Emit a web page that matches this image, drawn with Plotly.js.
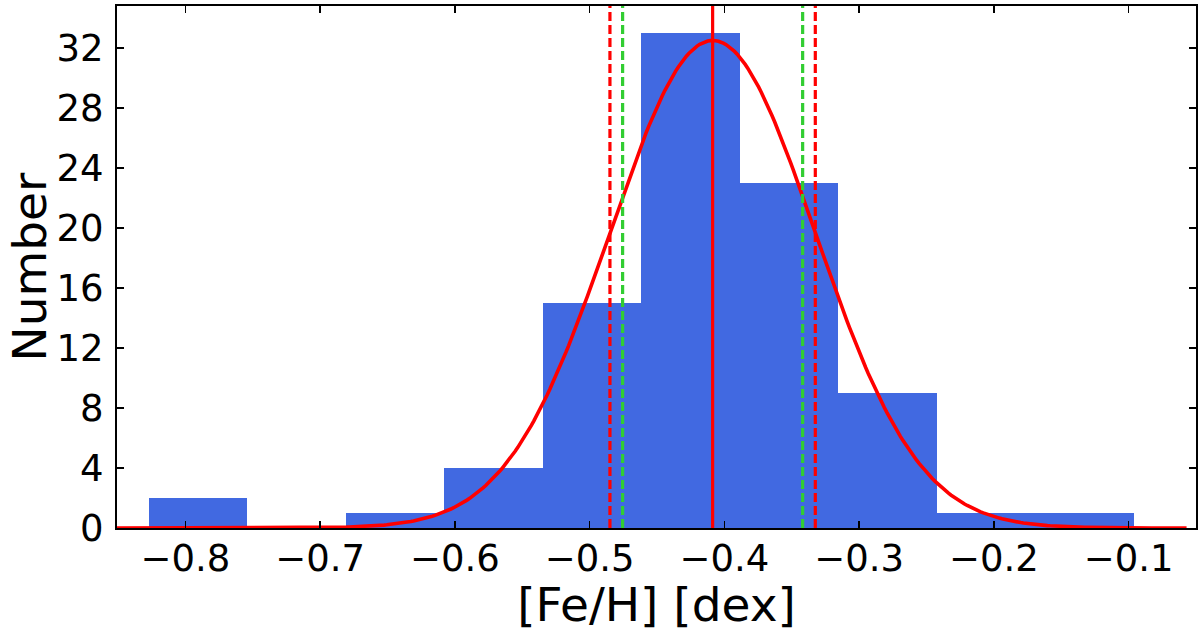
<!DOCTYPE html>
<html>
<head>
<meta charset="utf-8">
<script src="https://cdn.plot.ly/plotly-3.0.1.min.js"></script>
<style>html,body{margin:0;padding:0;background:#fff;}#chart{width:1200px;height:632px;}</style>
</head>
<body>
<div id="chart"></div>
<script>
// Histogram bin edges and counts
const binEdges = [-0.8272, -0.7541, -0.6810, -0.6078, -0.5347, -0.4616, -0.3885, -0.3153, -0.2422, -0.1691, -0.0960];
const counts   = [2, 0, 1, 4, 15, 33, 23, 9, 1, 1];

// Gaussian fit parameters
const fitMean  = -0.4087;
const fitSigma = 0.0762;
const fitPeak  = 32.5;
const fitRange = [-0.851, -0.057];

// Vertical reference lines
const solidLines     = [-0.4087];
const redDashLines   = [-0.4849, -0.3325];
const greenDashLines = [-0.4755, -0.3419];

const xTickVals = [-0.8, -0.7, -0.6, -0.5, -0.4, -0.3, -0.2, -0.1];
const xTickText = ["\u22120.8", "\u22120.7", "\u22120.6", "\u22120.5", "\u22120.4", "\u22120.3", "\u22120.2", "\u22120.1"];
const yTickVals = [0, 4, 8, 12, 16, 20, 24, 28, 32];

const centers = [], widths = [];
for (let i = 0; i < counts.length; i++) {
  centers.push((binEdges[i] + binEdges[i + 1]) / 2);
  widths.push(binEdges[i + 1] - binEdges[i]);
}

// model curve from the fitted Gaussian parameters
const gx = [], gy = [];
const nPts = 400;
for (let i = 0; i <= nPts; i++) {
  const x = fitRange[0] + (fitRange[1] - fitRange[0]) * i / nPts;
  gx.push(x);
  gy.push(fitPeak * Math.exp(-0.5 * Math.pow((x - fitMean) / fitSigma, 2)));
}

const traces = [
  {type: 'bar', x: centers, y: counts, width: widths,
   marker: {color: '#4169E1', line: {width: 0}}, hoverinfo: 'x+y'},
  {type: 'scatter', mode: 'lines', x: gx, y: gy,
   line: {color: '#FF0000', width: 3.6}, hoverinfo: 'skip'}
];

const shapes = [];
solidLines.forEach(v => shapes.push({type: 'line', xref: 'x', yref: 'paper', x0: v, x1: v, y0: 0, y1: 1,
  line: {color: '#FF0000', width: 3.2}}));
redDashLines.forEach(v => shapes.push({type: 'line', xref: 'x', yref: 'paper', x0: v, x1: v, y0: 0, y1: 1,
  line: {color: '#FF0000', width: 3.2, dash: '9px,4px'}}));
greenDashLines.forEach(v => shapes.push({type: 'line', xref: 'x', yref: 'paper', x0: v, x1: v, y0: 0, y1: 1,
  line: {color: '#32CD32', width: 3.2, dash: '9px,4px'}}));

const axisCommon = {
  showline: true, linecolor: '#000', linewidth: 2, mirror: 'allticks',
  ticks: 'inside', ticklen: 7, tickwidth: 1.5, tickcolor: '#000',
  showgrid: false, zeroline: false,
  tickfont: {family: 'DejaVu Sans', size: 37, color: '#000'}
};

const layout = {
  width: 1200, height: 632,
  margin: {l: 117, r: 4, t: 6, b: 104},
  paper_bgcolor: '#fff', plot_bgcolor: '#fff',
  showlegend: false, bargap: 0,
  font: {family: 'DejaVu Sans', color: '#000'},
  xaxis: Object.assign({}, axisCommon, {
    range: [-0.8507, -0.05], tickvals: xTickVals, ticktext: xTickText,
    ticklabelstandoff: -3,
    title: {text: '[Fe/H] [dex]', font: {family: 'DejaVu Sans', size: 47, color: '#000'}, standoff: 14}
  }),
  yaxis: Object.assign({}, axisCommon, {
    range: [0, 34.8], tickvals: yTickVals,
    ticklabelstandoff: 4
  }),
  annotations: [{
    text: 'Number', textangle: -90, showarrow: false,
    xref: 'paper', yref: 'paper', x: -117 / 1079, y: 0.5,
    xanchor: 'left', yanchor: 'middle', xshift: 0, borderpad: 0,
    font: {family: 'DejaVu Sans', size: 47, color: '#000'}
  }],
  shapes: shapes
};

Plotly.newPlot('chart', traces, layout, {displayModeBar: false, staticPlot: true});
</script>
</body>
</html>
